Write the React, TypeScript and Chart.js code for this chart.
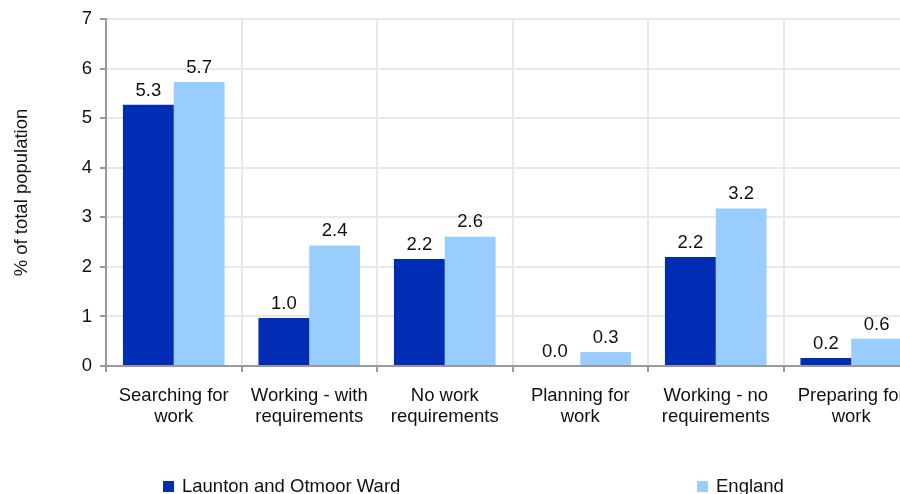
import React, { useEffect, useRef } from "react";
import { Chart, registerables } from "chart.js";

Chart.register(...registerables);

const categories: string[][] = [
  ["Searching for", "work"],
  ["Working - with", "requirements"],
  ["No work", "requirements"],
  ["Planning for", "work"],
  ["Working - no", "requirements"],
  ["Preparing for", "work"],
];
const wardLabel = "Launton and Otmoor Ward";
const englandLabel = "England";
const wardValues = [5.27, 0.97, 2.16, 0.0, 2.2, 0.16];
const englandValues = [5.73, 2.43, 2.61, 0.28, 3.18, 0.55];
const yTicks = [0, 1, 2, 3, 4, 5, 6, 7];
const yTitle = "% of total population";

const DARK = "#002db3";
const LIGHT = "#99ccff";
const FONT = "'Liberation Sans', Arial, sans-serif";
const FS = 18.5;

const valueLabels = {
  id: "valueLabels",
  afterDatasetsDraw(chart: any) {
    const ctx = chart.ctx;
    ctx.save();
    ctx.font = `${FS}px ${FONT}`;
    ctx.fillStyle = "#111";
    ctx.textAlign = "center";
    ctx.textBaseline = "bottom";
    chart.data.datasets.forEach((ds: any, i: number) => {
      const meta = chart.getDatasetMeta(i);
      meta.data.forEach((bar: any, j: number) => {
        const v = ds.data[j] as number;
        ctx.fillText(v.toFixed(1), bar.x, bar.y - 5);
      });
    });
    ctx.restore();
  },
};

export default function App() {
  const ref = useRef<HTMLCanvasElement>(null);
  useEffect(() => {
    if (!ref.current) return;
    const chart = new Chart(ref.current, {
      type: "bar",
      data: {
        labels: categories,
        datasets: [
          { label: wardLabel, data: wardValues, backgroundColor: DARK, categoryPercentage: 0.75, barPercentage: 1 },
          { label: englandLabel, data: englandValues, backgroundColor: LIGHT, categoryPercentage: 0.75, barPercentage: 1 },
        ],
      },
      options: {
        animation: false,
        responsive: false,
        maintainAspectRatio: false,
        layout: { padding: { top: 15, right: 1, bottom: 0, left: 0 } },
        plugins: { legend: { display: false }, tooltip: { enabled: false } },
        scales: {
          x: {
            afterFit: (s: any) => { s.height = 128; },
            grid: { color: "#e8e8e8", lineWidth: 2, tickColor: "#999", tickLength: 6, offset: true },
            border: { color: "#999", width: 2 },
            ticks: { color: "#111", font: { family: FONT, size: FS, lineHeight: 1.1 }, padding: 14, maxRotation: 0, autoSkip: false },
          },
          y: {
            min: yTicks[0],
            max: yTicks[yTicks.length - 1],
            afterFit: (s: any) => { s.width = 106; },
            afterBuildTicks: (s: any) => { s.ticks = yTicks.map((v) => ({ value: v })); },
            grid: { color: "#e8e8e8", lineWidth: 2, tickColor: "#999", tickLength: 6 },
            border: { color: "#999", width: 2 },
            ticks: { color: "#111", font: { family: FONT, size: FS }, padding: 8 },
            title: { display: true, text: yTitle, color: "#111", font: { family: FONT, size: FS }, padding: { top: 11, bottom: 0 } },
          },
        },
      },
      plugins: [valueLabels],
    });
    return () => chart.destroy();
  }, []);

  const legendItem = (left: number, color: string, text: string) => (
    <div style={{ position: "absolute", left, top: 475, display: "flex", alignItems: "center", fontFamily: FONT, fontSize: FS, color: "#111", whiteSpace: "nowrap" }}>
      <span style={{ display: "inline-block", width: 11, height: 11, background: color, marginRight: 8 }} />
      <span>{text}</span>
    </div>
  );

  return (
    <div style={{ position: "fixed", left: 0, top: 0, width: 900, height: 494, overflow: "hidden", background: "#fff" }}>
      <canvas ref={ref} width={920} height={494} style={{ position: "absolute", left: 0, top: 0 }} />
      {legendItem(163, DARK, wardLabel)}
      {legendItem(697, LIGHT, englandLabel)}
    </div>
  );
}
